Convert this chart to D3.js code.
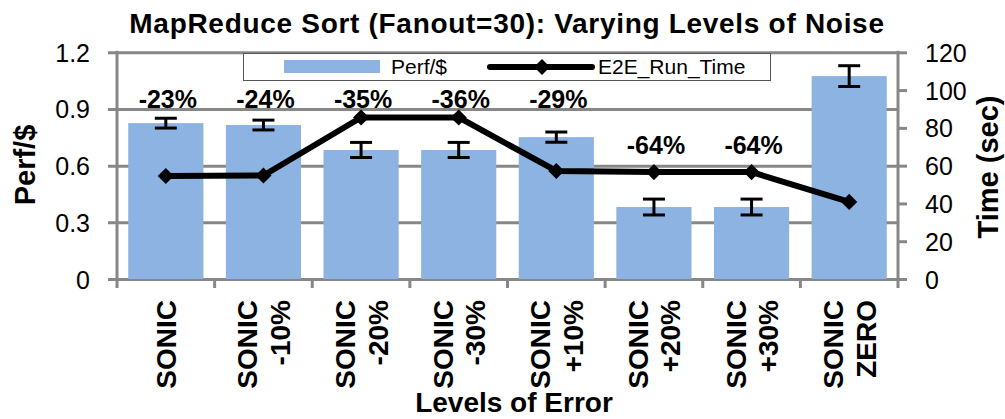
<!DOCTYPE html>
<html>
<head>
<meta charset="utf-8">
<script src="https://cdn.jsdelivr.net/npm/d3@7"></script>
<style>
  html, body { margin: 0; padding: 0; background: #fff; }
  svg { display: block; }
  text { font-family: "Liberation Sans", Arial, sans-serif; fill: #000; }
</style>
</head>
<body>
<svg id="chart" width="1005" height="419"></svg>
<script>
// Noise level per run, drawn as two-line rotated category labels
const categories = [
  ["SONIC"], ["SONIC", "-10%"], ["SONIC", "-20%"], ["SONIC", "-30%"],
  ["SONIC", "+10%"], ["SONIC", "+20%"], ["SONIC", "+30%"], ["SONIC", "ZERO"]
];
// Perf/$ (left axis) with its spread
const perfPerDollar = [0.825, 0.815, 0.683, 0.683, 0.751, 0.381, 0.381, 1.074];
const perfError     = [0.026, 0.026, 0.040, 0.040, 0.027, 0.042, 0.042, 0.055];
// End-to-end run time in seconds (right axis)
const runTime = [54.5, 54.8, 85.5, 85.5, 57.2, 56.6, 56.6, 40.8];
// Change labels printed over the first seven runs
const changeLabels = ["-23%", "-24%", "-35%", "-36%", "-29%", "-64%", "-64%"];
// Perf/$ level at which each change label sits
const changeLabelLevel = [0.9, 0.9, 0.9, 0.9, 0.9, 0.655, 0.655];

const leftTicks = [0, 0.3, 0.6, 0.9, 1.2];
const rightTicks = [0, 20, 40, 60, 80, 100, 120];

const svg = d3.select("#chart");
const plot = { left: 117, right: 898, top: 52.3, bottom: 279 };
const gridColor = "#878787";

const x = d3.scaleBand()
  .domain(d3.range(categories.length))
  .range([plot.left, plot.right])
  .paddingInner(0.23)
  .paddingOuter(0.115);
const yL = d3.scaleLinear().domain([0, 1.2]).range([plot.bottom, plot.top]);
const yR = d3.scaleLinear().domain([0, 120]).range([plot.bottom, plot.top]);
const cx = i => x(i) + x.bandwidth() / 2;

// Horizontal gridlines, extending left past the axis as ticks
const leftAxis = d3.axisLeft(yL)
  .tickValues(leftTicks)
  .tickSize(-(plot.right - plot.left) - 9)
  .tickSizeOuter(0)
  .tickPadding(0)
  .tickFormat(d3.format("~g"));
const gL = svg.append("g")
  .attr("transform", `translate(${plot.left - 9},0)`)
  .call(leftAxis);
gL.select(".domain").remove();
gL.selectAll(".tick line").attr("stroke", gridColor).attr("stroke-width", 3);
gL.selectAll(".tick text")
  .attr("x", -18)
  .attr("dy", "0.36em")
  .style("font-size", "25px")
  .style("font-family", "Liberation Sans, Arial, sans-serif")
  .attr("fill", "#000");

// Right axis with its own outward ticks
const rightAxis = d3.axisRight(yR)
  .tickValues(rightTicks)
  .tickSize(9)
  .tickSizeOuter(0)
  .tickPadding(18);
const gR = svg.append("g")
  .attr("transform", `translate(${plot.right},0)`)
  .call(rightAxis);
gR.select(".domain").remove();
gR.selectAll(".tick line").attr("stroke", gridColor).attr("stroke-width", 3);
gR.selectAll(".tick text")
  .attr("dy", "0.36em")
  .style("font-size", "25px")
  .style("font-family", "Liberation Sans, Arial, sans-serif")
  .attr("fill", "#000");

// Bars
svg.append("g").selectAll("rect")
  .data(perfPerDollar)
  .join("rect")
  .attr("x", (d, i) => x(i))
  .attr("y", d => yL(d))
  .attr("width", x.bandwidth())
  .attr("height", d => yL(0) - yL(d))
  .attr("fill", "#8DB3E2");

// Vertical axis lines
[plot.left, plot.right].forEach(px => {
  svg.append("line")
    .attr("x1", px).attr("x2", px)
    .attr("y1", plot.top - 1.5).attr("y2", plot.bottom + 1.5)
    .attr("stroke", gridColor).attr("stroke-width", 3);
});

// Category boundary ticks under the baseline
const bottom = svg.append("g");
d3.range(categories.length + 1).forEach(i => {
  const px = plot.left + i * x.step();
  bottom.append("line")
    .attr("x1", px).attr("x2", px)
    .attr("y1", plot.bottom).attr("y2", plot.bottom + 9)
    .attr("stroke", gridColor).attr("stroke-width", 3);
});

// Error bars
const err = svg.append("g").attr("stroke", "#000").attr("stroke-width", 3);
perfPerDollar.forEach((v, i) => {
  const hi = yL(v + perfError[i]), lo = yL(v - perfError[i]), c = cx(i);
  err.append("line").attr("x1", c).attr("x2", c).attr("y1", hi).attr("y2", lo);
  err.append("line").attr("x1", c - 11).attr("x2", c + 11).attr("y1", hi).attr("y2", hi);
  err.append("line").attr("x1", c - 11).attr("x2", c + 11).attr("y1", lo).attr("y2", lo);
});

// Run time line with diamond markers
const line = d3.line().x((d, i) => cx(i)).y(d => yR(d));
svg.append("path")
  .datum(runTime)
  .attr("d", line)
  .attr("fill", "none")
  .attr("stroke", "#000")
  .attr("stroke-width", 6)
  .attr("stroke-linejoin", "round");
const diamond = d3.symbol().type(d3.symbolSquare).size(130);
svg.append("g").selectAll("path")
  .data(runTime)
  .join("path")
  .attr("d", diamond)
  .attr("transform", (d, i) => `translate(${cx(i)},${yR(d)}) rotate(45)`)
  .attr("fill", "#000");

// Change labels
svg.append("g").selectAll("text")
  .data(changeLabels)
  .join("text")
  .attr("x", (d, i) => cx(i) + 2)
  .attr("y", (d, i) => yL(changeLabelLevel[i]) - 1)
  .attr("text-anchor", "middle")
  .style("font-size", "25px")
  .style("font-weight", "bold")
  .text(d => d);

// Legend
const legend = svg.append("g");
legend.append("rect")
  .attr("x", 243.5).attr("y", 53.5).attr("width", 527).attr("height", 27)
  .attr("fill", "#fff").attr("stroke", "#555").attr("stroke-width", 1);
legend.append("rect")
  .attr("x", 284).attr("y", 60).attr("width", 96).attr("height", 13)
  .attr("fill", "#8DB3E2");
legend.append("text")
  .attr("x", 391).attr("y", 74)
  .style("font-size", "21px")
  .text("Perf/$");
legend.append("line")
  .attr("x1", 490).attr("x2", 592).attr("y1", 67).attr("y2", 67)
  .attr("stroke", "#000").attr("stroke-width", 6).attr("stroke-linecap", "round");
legend.append("path")
  .attr("d", diamond)
  .attr("transform", "translate(542,67) rotate(45)")
  .attr("fill", "#000");
legend.append("text")
  .attr("x", 598).attr("y", 74)
  .style("font-size", "21px")
  .text("E2E_Run_Time");

// Rotated category labels
const catG = svg.append("g");
categories.forEach((lines, i) => {
  const t = catG.append("text")
    .attr("transform", `translate(${cx(i)},300) rotate(-90)`)
    .attr("text-anchor", "end")
    .style("font-size", "28px")
    .style("font-weight", "bold");
  const offsets = lines.length === 1 ? [10] : [-6, 26.5];
  lines.forEach((s, j) => {
    t.append("tspan").attr("x", 0).attr("y", offsets[j]).text(s);
  });
});

// Titles
svg.append("text")
  .attr("x", 507).attr("y", 33)
  .attr("text-anchor", "middle")
  .style("font-size", "28px")
  .style("font-weight", "bold")
  .style("letter-spacing", "0.7px")
  .text("MapReduce Sort (Fanout=30): Varying Levels of Noise");
svg.append("text")
  .attr("x", 514).attr("y", 412)
  .attr("text-anchor", "middle")
  .style("font-size", "28px")
  .style("font-weight", "bold")
  .text("Levels of Error");
svg.append("text")
  .attr("transform", "translate(35,165) rotate(-90)")
  .attr("text-anchor", "middle")
  .style("font-size", "29px")
  .style("font-weight", "bold")
  .text("Perf/$");
svg.append("text")
  .attr("transform", "translate(998,167) rotate(-90)")
  .attr("text-anchor", "middle")
  .style("font-size", "29px")
  .style("font-weight", "bold")
  .text("Time (sec)");
</script>
</body>
</html>
